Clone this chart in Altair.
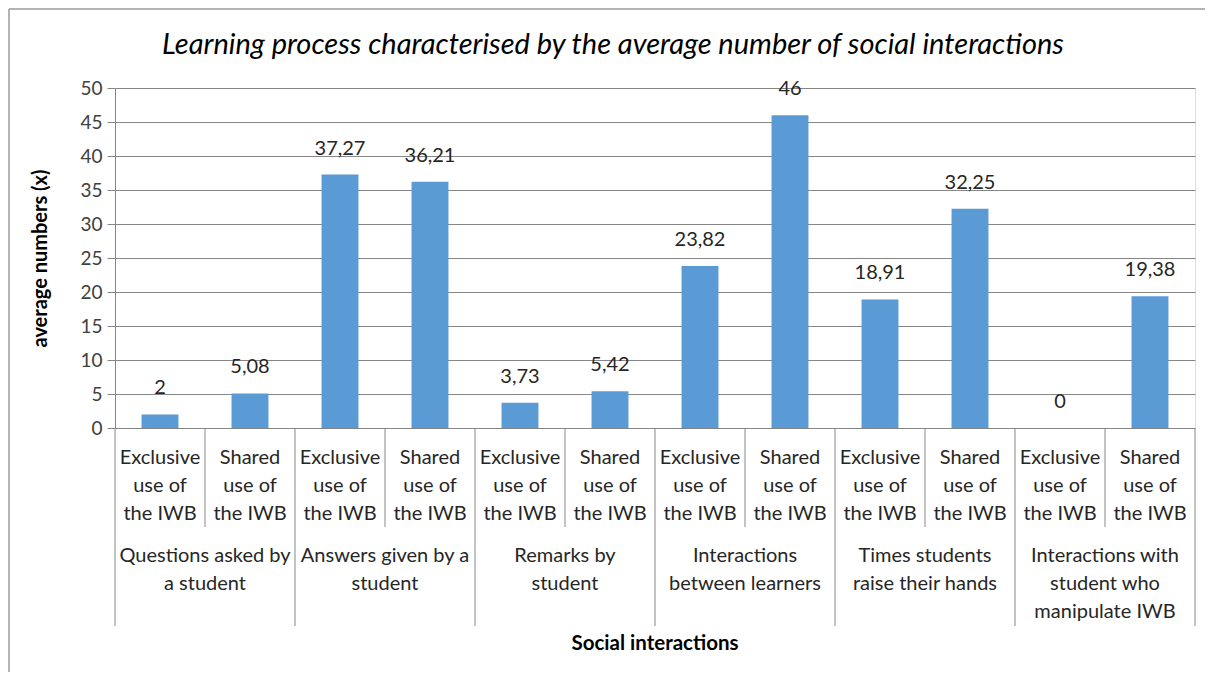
import altair as alt
import pandas as pd

# ---- data ----
groups = [
    "Questions asked by\na student",
    "Answers given by a\nstudent",
    "Remarks by\nstudent",
    "Interactions\nbetween learners",
    "Times students\nraise their hands",
    "Interactions with\nstudent who\nmanipulate IWB",
]
uses = ["Exclusive\nuse of\nthe IWB", "Shared\nuse of\nthe IWB"]
values = [2, 5.08, 37.27, 36.21, 3.73, 5.42, 23.82, 46, 18.91, 32.25, 0, 19.38]
value_labels = ["2", "5,08", "37,27", "36,21", "3,73", "5,42",
                "23,82", "46", "18,91", "32,25", "0", "19,38"]
y_ticks = [0, 5, 10, 15, 20, 25, 30, 35, 40, 45, 50]
title_text = "Learning process characterised by the average number of social interactions"

FONT = "Lato"
TXT = "#262626"
GRID = "#868686"
BAR = "#5B9BD5"
HALF = 0.205  # half bar width in category units

n = len(values)
bars = pd.DataFrame({
    "idx": list(range(n)),
    "center": [i + 0.5 for i in range(n)],
    "x0": [i + 0.5 - HALF for i in range(n)],
    "x1": [i + 0.5 + HALF for i in range(n)],
    "base": [0] * n,
    "value": values,
    "label": value_labels,
    "use": [uses[i % 2] for i in range(n)],
})
grp = pd.DataFrame({
    "center": [2 * g + 1 for g in range(len(groups))],
    "group": groups,
})
inner_sep = pd.DataFrame({"pos": [i for i in range(n + 1) if i % 2 == 1]})
group_sep = pd.DataFrame({"pos": [i for i in range(n + 1) if i % 2 == 0]})
one = pd.DataFrame({"a": [0]})

xscale = alt.Scale(domain=[0, n], nice=False, zero=False)
yscale = alt.Scale(domain=[0, 50], nice=False)

y_axis = alt.Axis(
    values=y_ticks,
    title="average numbers (x)",
    titleFont=FONT, titleFontSize=20, titleFontWeight="bold",
    titleColor="#000000", titleAngle=-90,
    titleX=-75, titleY=170, titleAlign="center", titleBaseline="middle",
    labelFont=FONT, labelFontSize=19, labelColor="#404040", labelPadding=5,
    labelOverlap=False,
    tickSize=8, tickColor=GRID, domainColor=GRID,
    grid=True, gridColor=GRID, gridOpacity=1,
)

bar_layer = alt.Chart(bars).mark_bar(color=BAR).encode(
    x=alt.X("x0:Q", scale=xscale, axis=None),
    x2="x1:Q",
    y=alt.Y("value:Q", scale=yscale, axis=y_axis),
    y2="base:Q",
)

value_text = alt.Chart(bars).mark_text(
    font=FONT, fontSize=20, color=TXT, baseline="middle", dy=-26
).encode(
    x=alt.X("center:Q", scale=xscale, axis=None),
    y=alt.Y("value:Q", scale=yscale, axis=y_axis),
    text="label:N",
)

inner_rules = alt.Chart(inner_sep).mark_rule(color=GRID, strokeWidth=1).encode(
    x=alt.X("pos:Q", scale=xscale, axis=None),
    y=alt.value(340), y2=alt.value(439),
)
group_rules = alt.Chart(group_sep).mark_rule(color=GRID, strokeWidth=1).encode(
    x=alt.X("pos:Q", scale=xscale, axis=None),
    y=alt.value(340), y2=alt.value(538),
)

use_text = alt.Chart(bars).mark_text(
    font=FONT, fontSize=20, color=TXT, baseline="top", align="center",
    lineBreak="\n", lineHeight=28,
).encode(
    x=alt.X("center:Q", scale=xscale, axis=None),
    y=alt.value(360),
    text="use:N",
)

group_text = alt.Chart(grp).mark_text(
    font=FONT, fontSize=20, color=TXT, baseline="top", align="center",
    lineBreak="\n", lineHeight=28,
).encode(
    x=alt.X("center:Q", scale=xscale, axis=None),
    y=alt.value(458),
    text="group:N",
)

x_title = alt.Chart(one).mark_text(
    font=FONT, fontSize=20.5, fontWeight="bold", color="#000000",
    baseline="middle", align="center", text="Social interactions",
).encode(x=alt.value(540), y=alt.value(556))

main_title = alt.Chart(one).mark_text(
    font=FONT, fontSize=29, fontStyle="italic", color="#000000",
    baseline="middle", align="center", text=title_text,
).encode(x=alt.value(498), y=alt.value(-43))

frame_top = alt.Chart(one).mark_rule(color="#9a9a9a", strokeWidth=1.5).encode(
    x=alt.value(-106), x2=alt.value(1106), y=alt.value(-79)
)
frame_left = alt.Chart(one).mark_rule(color="#9a9a9a", strokeWidth=1.5).encode(
    x=alt.value(-106), y=alt.value(-79), y2=alt.value(600)
)

chart = alt.layer(
    bar_layer, value_text, inner_rules, group_rules, use_text, group_text,
    x_title, main_title, frame_top, frame_left,
).properties(
    width=1080,
    height=340,
    autosize=alt.AutoSizeParams(type="none"),
    padding={"left": 107, "top": 80, "right": 10, "bottom": 244},
).configure_view(stroke=None).configure(background="white")

chart.save("out.html", embed_options={"renderer": "svg", "actions": False})
